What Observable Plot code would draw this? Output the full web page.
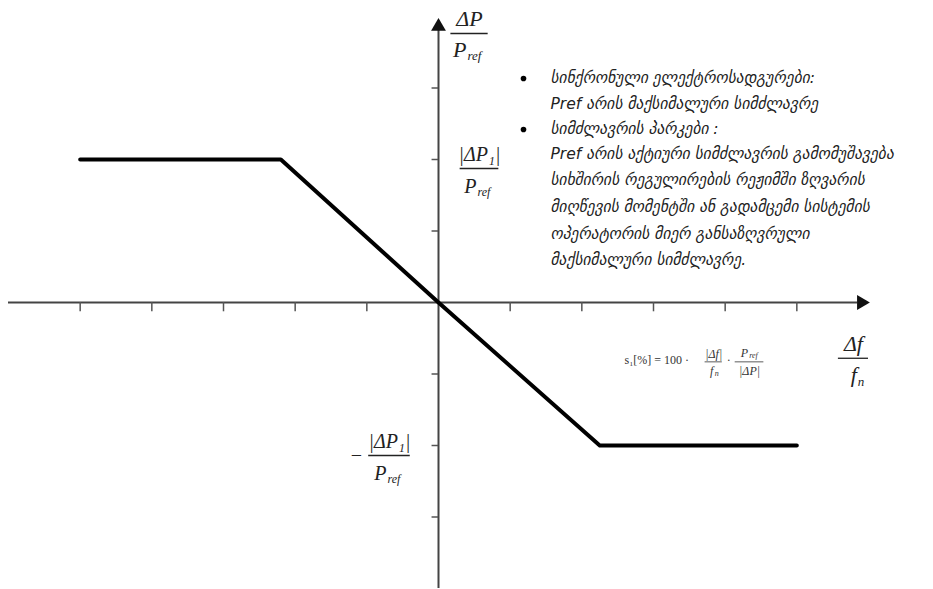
<!DOCTYPE html>
<html><head><meta charset="utf-8">
<script src="https://cdn.jsdelivr.net/npm/d3@7"></script>
<script src="https://cdn.jsdelivr.net/npm/@observablehq/plot@0.6"></script>
<style>body{margin:0;background:#fff}</style>
</head><body><div id="chart"></div>
<script>
// ---- data ----
const xTicks = [-5, -4, -3, -2, -1, 1, 2, 3, 4, 5];
const yTicks = [-3, -2, -1, 1, 2, 3];
const droopX = [-5, -2.2, 0, 2.25, 5];
const droopY = [2, 2, 0, -2, -2];
const noteLines = [
  "სინქრონული ელექტროსადგურები:",
  "Pref არის მაქსიმალური სიმძლავრე",
  "სიმძლავრის პარკები :",
  "Pref არის აქტიური სიმძლავრის გამომუშავება",
  "სიხშირის რეგულირების რეჟიმში ზღვარის",
  "მიღწევის მომენტში ან გადამცემი სისტემის",
  "ოპერატორის მიერ განსაზღვრული",
  "მაქსიმალური სიმძლავრე."
];
const bulletRows = [0, 2];
const fracNum = ["ΔP", "|ΔP₁|", "|ΔP₁|", "Δf"];
const fracDen = ["P", "P", "P", "f"];
const fracSub = ["ref", "ref", "ref", "n"];
const formulaLead = "s₁[%] = 100 ·";
const formulaDot = "·";

// ---- layout (data units) ----
const noteX = 1.563, bulletX = 1.186;
const noteY = [3.133, 2.769, 2.42, 2.07, 1.706, 1.329, 0.951, 0.587];
const fracX = [0.433, 0.572, -0.684, 5.79];
const fracY = [3.762, 1.874, -2.14, -0.78];
const fracHalf = [0.26, 0.27, 0.29, 0.21];
const minusPos = {x: -1.144, y: -2.14};

const serif = "'Liberation Serif', 'DejaVu Serif', serif";
const geo = "'DejaVu Sans', sans-serif";

function fraction(i, fs, sfs, numDy, denDy) {
  const cx = fracX[i], cy = fracY[i];
  const mainW = fracDen[i].length * fs * 0.6;
  const subW = fracSub[i].length * sfs * 0.5;
  const shift = (mainW - subW) / 2;
  return [
    Plot.text([0], {x: () => cx, y: () => cy, text: () => fracNum[i], dy: numDy,
      fontSize: fs, fontFamily: serif, fontStyle: "italic", fill: "#222"}),
    Plot.ruleY([cy], {x1: cx - fracHalf[i], x2: cx + fracHalf[i], stroke: "#222", strokeWidth: 1.3}),
    Plot.text([0], {x: () => cx, y: () => cy, text: () => fracDen[i], dy: denDy, dx: shift,
      textAnchor: "end", fontSize: fs, fontFamily: serif, fontStyle: "italic", fill: "#222"}),
    Plot.text([0], {x: () => cx, y: () => cy, text: () => fracSub[i], dy: denDy + fs * 0.3, dx: shift + 1,
      textAnchor: "start", fontSize: sfs, fontFamily: serif, fontStyle: "italic", fill: "#222"})
  ];
}

// formula pieces
const fX1 = 3.84, fX2 = 4.34, fY = -0.83;
function smallText(x, y, t, opts = {}) {
  return Plot.text([0], {x: () => x, y: () => y, text: () => t, fontSize: 12,
    fontFamily: serif, fill: "#333", ...opts});
}

const droop = droopX.map((x, i) => ({x, y: droopY[i]}));

const chart = Plot.plot({
  width: 933, height: 589,
  marginTop: 0, marginRight: 0, marginBottom: 0, marginLeft: 0,
  x: {domain: [-6, 6], range: [8, 868], axis: null},
  y: {domain: [-4, 4], range: [588, 16], axis: null},
  style: {background: "#fff"},
  marks: [
    // axes
    Plot.ruleY([0], {x1: -6, x2: 5.85, stroke: "#444", strokeWidth: 2}),
    Plot.ruleX([0], {y1: -4, y2: 3.85, stroke: "#444", strokeWidth: 2}),
    Plot.ruleX(xTicks, {x: d => d, y1: 0, y2: -0.13, stroke: "#555", strokeWidth: 1.5}),
    Plot.ruleY(yTicks, {y: d => d, x1: -0.09, x2: 0, stroke: "#555", strokeWidth: 1.5}),
    // arrowheads
    Plot.dot([0], {x: () => 0, y: () => 3.86, symbol: "triangle", r: 5.5, fill: "#111", stroke: "none"}),
    Plot.dot([0], {x: () => 5.9, y: () => 0, symbol: "triangle", r: 5.5, rotate: 90, fill: "#111", stroke: "none"}),
    // droop characteristic
    Plot.line(droop, {x: "x", y: "y", stroke: "#000", strokeWidth: 4}),
    // fraction labels
    ...fraction(0, 22, 13, -15, 16),
    ...fraction(1, 20, 12, -14, 18),
    ...fraction(2, 20, 12, -14, 18),
    Plot.text([0], {x: () => minusPos.x, y: () => minusPos.y, text: () => "−", fontSize: 20, fontFamily: serif, fill: "#222"}),
    ...fraction(3, 22, 13, -14, 17),
    // formula
    smallText(2.595, fY + 0.03, formulaLead, {textAnchor: "start"}),
    smallText(fX1, fY, "|Δf|", {dy: -8, fontStyle: "italic"}),
    Plot.ruleY([fY], {x1: fX1 - 0.12, x2: fX1 + 0.12, stroke: "#333", strokeWidth: 0.8}),
    smallText(fX1, fY, "f", {dy: 9, dx: -2, fontStyle: "italic"}),
    smallText(fX1, fY, "n", {dy: 12, dx: 3, fontSize: 8, fontStyle: "italic"}),
    smallText(4.05, fY + 0.03, formulaDot),
    smallText(fX2, fY, "P", {dy: -9, dx: -5, fontStyle: "italic"}),
    smallText(fX2, fY, "ref", {dy: -6, dx: 4, fontSize: 8, fontStyle: "italic"}),
    Plot.ruleY([fY], {x1: fX2 - 0.2, x2: fX2 + 0.2, stroke: "#333", strokeWidth: 0.8}),
    smallText(fX2, fY, "|ΔP|", {dy: 9, fontStyle: "italic"}),
    // notes
    Plot.dot(bulletRows, {x: () => bulletX, y: d => noteY[d], r: 2.8, fill: "#000", stroke: "none"}),
    Plot.text(noteLines, {x: () => noteX, y: (d, i) => noteY[i], text: d => d, textAnchor: "start",
      fontSize: 15.5, fontFamily: geo, fontStyle: "italic", fill: "#222"})
  ]
});
document.getElementById("chart").append(chart);
</script>
</body></html>
